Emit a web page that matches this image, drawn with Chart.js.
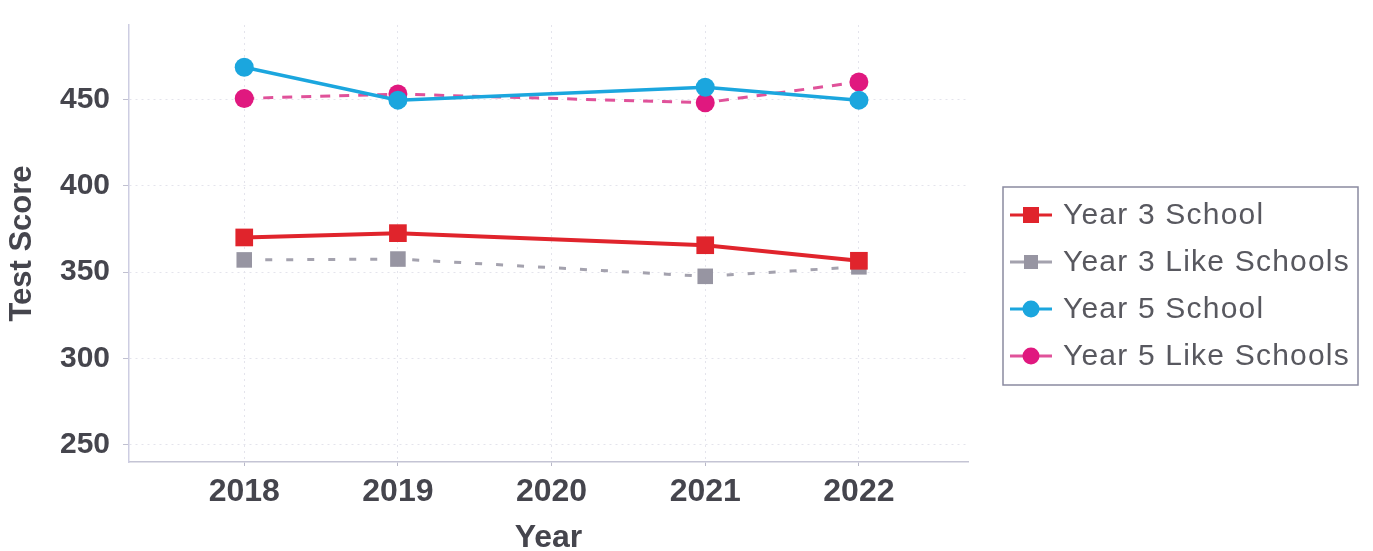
<!DOCTYPE html>
<html>
<head>
<meta charset="utf-8">
<script src="https://cdn.jsdelivr.net/npm/chart.js@4/dist/chart.umd.min.js"></script>
<style>
  html, body { margin: 0; padding: 0; background: #fff; }
  #wrap { width: 1373px; height: 551px; }
</style>
</head>
<body>
<div id="wrap"><canvas id="scoreChart" width="1373" height="551"></canvas></div>
<script>
"use strict";

// years on the x axis (2020 has no results)
const years = [2018, 2019, 2020, 2021, 2022];
const yTicks = [250, 300, 350, 400, 450];

const year3School = [370, 372.5, null, 365.5, 356.5];
const year3Like = [357, 357.5, null, 347.5, 353];
const year5School = [468.5, 449.5, null, 457, 449.5];
const year5Like = [450.5, 453, null, 448, 460];

const FONT = "'Liberation Sans', Arial, sans-serif";
const TEXT = '#45454d';

const toPoints = (vals) => years.map((yr, i) => ({ x: yr, y: vals[i] }));

// legend drawn by hand: boxed, with a line segment behind each marker
const boxedLegend = {
    id: 'boxedLegend',
    afterDraw(chart) {
        const ctx = chart.ctx;
        const left = 1003, top = 187, w = 355, h = 198;
        ctx.save();
        ctx.strokeStyle = '#8a8aa0';
        ctx.lineWidth = 1.5;
        ctx.strokeRect(left, top, w, h);

        const rowY = [215, 262, 309, 356];
        chart.data.datasets.forEach((ds, i) => {
            const y = rowY[i];
            ctx.strokeStyle = ds.borderColor;
            ctx.lineWidth = 3;
            ctx.setLineDash([]);
            ctx.beginPath();
            ctx.moveTo(1010, y);
            ctx.lineTo(1052, y);
            ctx.stroke();

            ctx.fillStyle = ds.pointBackgroundColor;
            if (ds.pointStyle === 'rect') {
                const s = ds.legendSize;
                ctx.fillRect(1031 - s / 2, y - s / 2, s, s);
            } else {
                ctx.beginPath();
                ctx.arc(1031, y, ds.legendSize / 2, 0, Math.PI * 2);
                ctx.fill();
            }

            ctx.fillStyle = '#58585f';
            ctx.font = '30px ' + FONT;
            ctx.letterSpacing = '1.2px';
            ctx.textBaseline = 'middle';
            ctx.textAlign = 'left';
            ctx.fillText(ds.label, 1063, y + 1);
        });
        ctx.restore();
    }
};

const ctx = document.getElementById('scoreChart').getContext('2d');
const scoreChart = new Chart(ctx, {
    type: 'line',
    data: {
        datasets: [{
            label: 'Year 3 School',
            data: toPoints(year3School),
            borderColor: '#e0242c',
            backgroundColor: '#e0242c',
            pointBackgroundColor: '#e0242c',
            pointBorderWidth: 0,
            borderWidth: 4,
            pointStyle: 'rect',
            pointRadius: 12.5,
            legendSize: 16,
        }, {
            label: 'Year 3 Like Schools',
            data: toPoints(year3Like),
            borderColor: '#a4a2ae',
            backgroundColor: '#9795a2',
            pointBackgroundColor: '#9795a2',
            pointBorderWidth: 0,
            borderWidth: 3,
            borderDash: [7, 14],
            pointStyle: 'rect',
            pointRadius: 11,
            legendSize: 14,
        }, {
            label: 'Year 5 School',
            data: toPoints(year5School),
            borderColor: '#1ba6de',
            backgroundColor: '#1ba6de',
            pointBackgroundColor: '#1ba6de',
            pointBorderWidth: 0,
            borderWidth: 3.5,
            pointStyle: 'circle',
            pointRadius: 9.5,
            legendSize: 17,
        }, {
            label: 'Year 5 Like Schools',
            data: toPoints(year5Like),
            borderColor: '#e0529a',
            backgroundColor: '#e0187f',
            pointBackgroundColor: '#e0187f',
            pointBorderWidth: 0,
            borderWidth: 3,
            borderDash: [10, 9],
            pointStyle: 'circle',
            pointRadius: 9.5,
            legendSize: 17,
        }]
    },
    options: {
        responsive: false,
        animation: false,
        spanGaps: true,
        layout: {
            padding: { left: 0, right: 405, top: 25, bottom: 0 }
        },
        plugins: {
            legend: { display: false },
            tooltip: { enabled: false },
        },
        scales: {
            x: {
                type: 'linear',
                min: 2017.25,
                max: 2022.71,
                afterBuildTicks: (scale) => {
                    scale.ticks = years.map(v => ({ value: v }));
                },
                afterFit: (scale) => {
                    scale.height = 89;
                    scale.paddingLeft = 0;
                    scale.paddingRight = 0;
                },
                ticks: {
                    callback: (v) => String(v),
                    color: TEXT,
                    font: { family: FONT, size: 32, weight: 'bold' },
                    padding: 7,
                    maxRotation: 0,
                },
                grid: {
                    color: '#e4e4ec',
                    lineWidth: 1,
                    tickLength: 4,
                    tickColor: '#b8b8c8',
                },
                border: {
                    color: '#c4c4d4',
                    width: 1.5,
                    dash: [2, 4],
                },
                title: {
                    display: true,
                    text: 'Year',
                    color: TEXT,
                    font: { family: FONT, size: 32, weight: 'bold' },
                    padding: { top: 0, bottom: -6 },
                }
            },
            y: {
                min: 240,
                max: 493,
                afterBuildTicks: (scale) => {
                    scale.ticks = yTicks.map(v => ({ value: v }));
                },
                afterFit: (scale) => {
                    scale.width = 129;
                    scale.paddingTop = 0;
                    scale.paddingBottom = 0;
                },
                ticks: {
                    color: TEXT,
                    font: { family: FONT, size: 30, weight: 'bold' },
                    padding: 13,
                },
                grid: {
                    color: '#e4e4ec',
                    lineWidth: 1,
                    tickLength: 6,
                    tickColor: '#c0c0d0',
                },
                border: {
                    color: '#cdcde2',
                    width: 1.5,
                    dash: [2, 4],
                },
                title: {
                    display: true,
                    text: 'Test Score',
                    color: TEXT,
                    font: { family: FONT, size: 31, weight: 'bold' },
                }
            }
        }
    },
    plugins: [boxedLegend]
});
</script>
</body>
</html>
